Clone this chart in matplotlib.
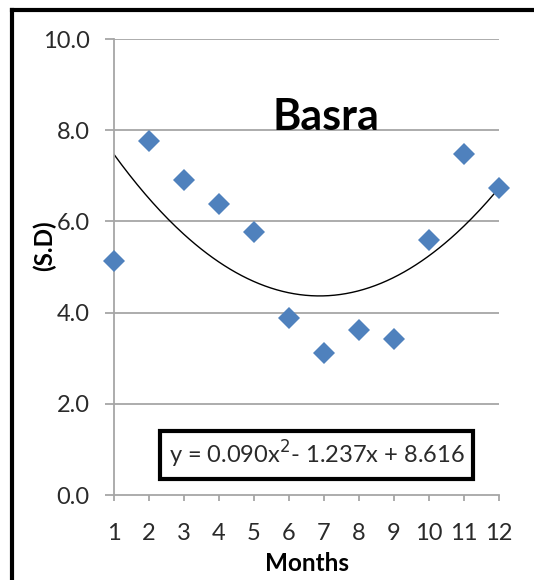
import numpy as np
import matplotlib.pyplot as plt
from matplotlib.lines import Line2D

# monthly standard deviation, Basra
months = [1, 2, 3, 4, 5, 6, 7, 8, 9, 10, 11, 12]
sd_values = [5.13, 7.76, 6.91, 6.38, 5.77, 3.88, 3.11, 3.62, 3.42, 5.59, 7.48, 6.73]
trend_coef = [0.090, -1.237, 8.616]  # quadratic trendline shown on chart
y_ticks = [0, 2, 4, 6, 8, 10]

plt.rcParams['font.family'] = ['Lato', 'DejaVu Sans']

fig = plt.figure(figsize=(5.34, 5.80), dpi=100)
ax = fig.add_axes([114 / 534, 1 - 495 / 580, (499 - 114) / 534, (495 - 39) / 580])

grid_col = '#a6a6a6'
for v in y_ticks[1:]:
    ax.axhline(v, color=grid_col, lw=1.3, zorder=1)

xs = np.linspace(months[0], months[-1], 200)
ax.plot(xs, np.polyval(trend_coef, xs), color='black', lw=1.0, zorder=2)
ax.plot(months, sd_values, 'D', color='#4f81bd', markersize=11, markeredgewidth=0, zorder=3, clip_on=False)

ax.set_xlim(1, 12)
ax.set_ylim(0, 10)
ax.set_xticks(months)
ax.set_yticks(y_ticks)
ax.set_yticklabels([f'{v:.1f}' for v in y_ticks])
ax.tick_params(axis='both', labelsize=17, colors=grid_col, labelcolor='#2a2a2a')
ax.tick_params(axis='y', length=6.5, width=1.3, pad=11)
ax.tick_params(axis='x', length=4, width=1.3, pad=16)
for s in ['top', 'right']:
    ax.spines[s].set_visible(False)
for s in ['left', 'bottom']:
    ax.spines[s].set_color(grid_col)
    ax.spines[s].set_linewidth(1.3)

ax.set_xlabel('Months', fontsize=17.5, fontweight='bold')
ax.xaxis.set_label_coords(0.501, -0.125)
ax.set_ylabel('(S.D)', fontsize=17.5, fontweight='bold')
ax.yaxis.set_label_coords(-0.15, 0.546)

ax.text(0.551, 0.83, 'Basra', transform=ax.transAxes, fontsize=31, fontweight='bold',
        ha='center', va='center')

ax.text(0.526, 0.088, 'y = 0.090x$^2$- 1.237x + 8.616', transform=ax.transAxes, fontsize=17,
        ha='center', va='center', color='#2a2a2a',
        bbox=dict(boxstyle='square,pad=0.35', fc='white', ec='black', lw=3))

# outer frame (top and left edges visible)
fig.add_artist(Line2D([12 / 534, 1], [1 - 10 / 580, 1 - 10 / 580], color='black', lw=3, transform=fig.transFigure))
fig.add_artist(Line2D([12 / 534, 12 / 534], [0, 1 - 10 / 580], color='black', lw=3, transform=fig.transFigure))

fig.savefig('out.png', dpi=100, facecolor='white')
